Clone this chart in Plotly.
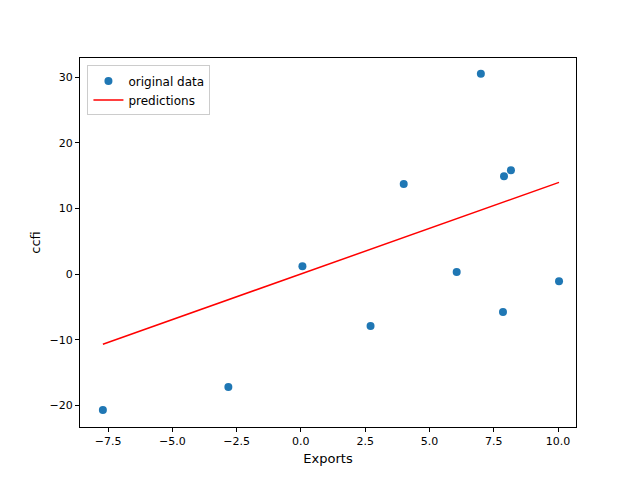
import plotly.graph_objects as go

exports = [-7.7, -2.82, 0.06, 2.71, 4.0, 6.06, 7.0, 7.86, 7.9, 8.17, 10.04]
ccfi = [-20.7, -17.2, 1.2, -7.9, 13.7, 0.3, 30.5, -5.8, 14.9, 15.8, -1.1]
predictions = [-10.7, -3.92, 0.08, 3.77, 5.56, 8.42, 9.73, 10.93, 10.98, 11.36, 13.96]

fig = go.Figure()
fig.add_trace(go.Scatter(x=exports, y=ccfi, mode="markers", name="original data",
                         marker=dict(color="#1f77b4", size=8)))
fig.add_trace(go.Scatter(x=exports, y=predictions, mode="lines", name="predictions",
                         line=dict(color="red", width=1.5)))

axis = dict(showgrid=False, zeroline=False, showline=True, linecolor="black", mirror=True,
            ticks="outside", ticklen=4, tickcolor="black")
fig.update_layout(
    width=640, height=480,
    margin=dict(l=72, r=72, t=50, b=61),
    plot_bgcolor="white", paper_bgcolor="white",
    font=dict(family="DejaVu Sans", size=11, color="black"),
    xaxis=dict(axis, range=[-8.59, 10.7], tickvals=[-7.5, -5, -2.5, 0, 2.5, 5, 7.5, 10],
               ticktext=["−7.5", "−5.0", "−2.5", "0.0", "2.5", "5.0", "7.5", "10.0"],
               title=dict(text="Exports", standoff=6)),
    yaxis=dict(axis, range=[-23.3, 32.9], tickvals=[-20, -10, 0, 10, 20, 30],
               ticktext=["−20", "−10", "0", "10", "20", "30"],
               title=dict(text="ccfi", standoff=6)),
    legend=dict(x=0.015, y=0.98, xanchor="left", yanchor="top", bordercolor="#cccccc",
                borderwidth=1, bgcolor="rgba(255,255,255,0.8)", font=dict(size=12)),
)
fig.write_html("out.html")
